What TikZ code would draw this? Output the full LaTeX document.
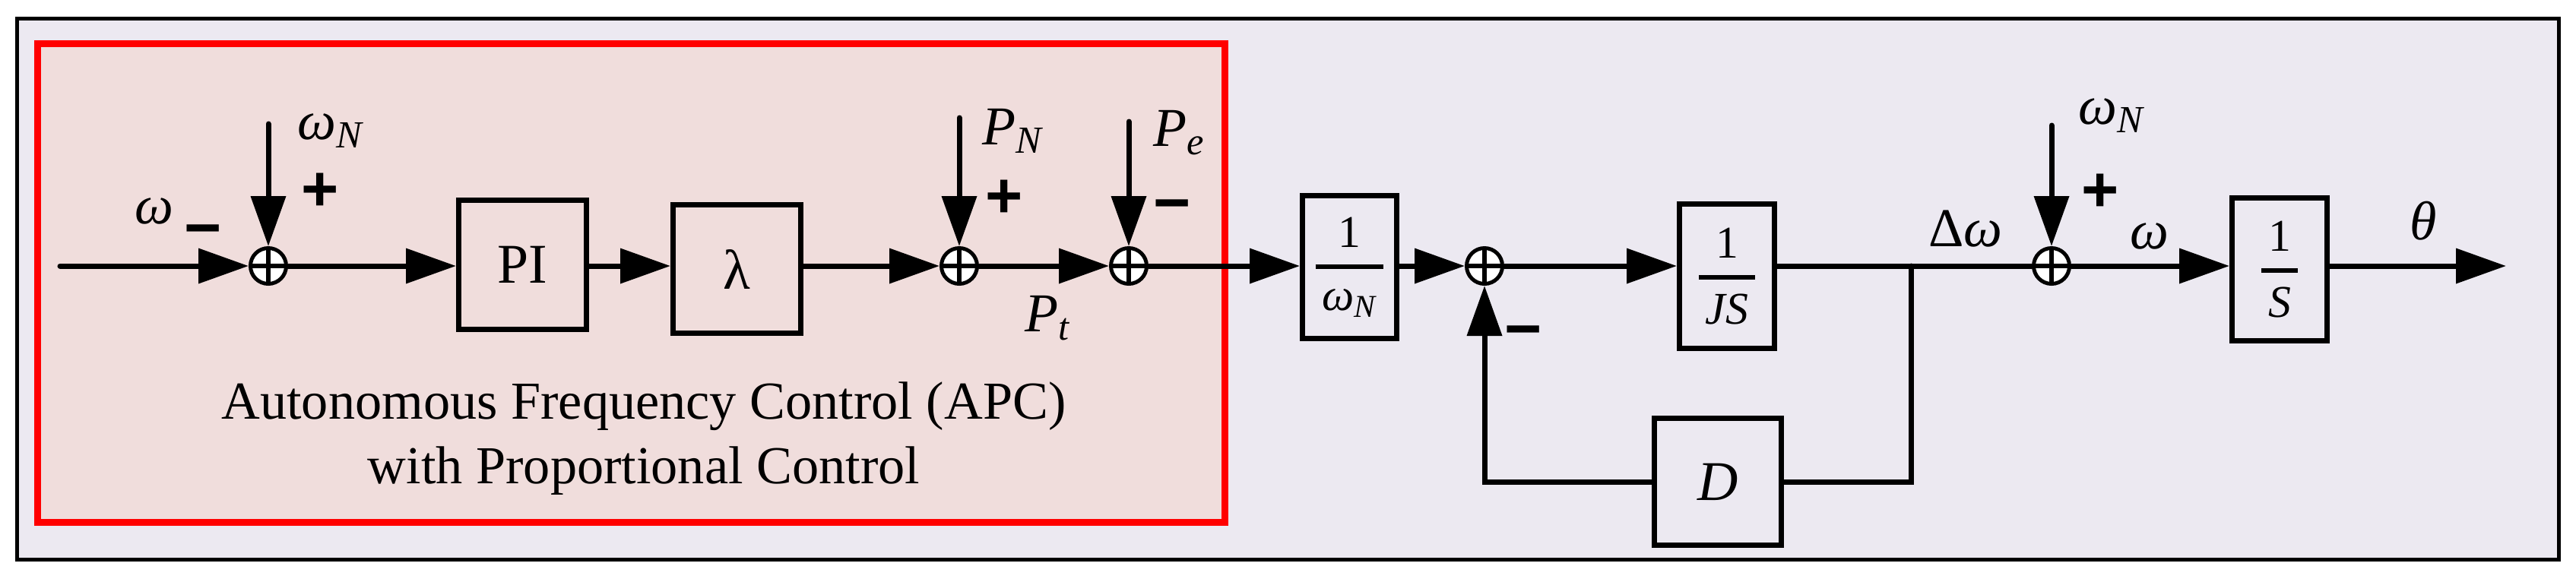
\documentclass[tikz,border=0pt]{standalone}
\usepackage{amsmath}
\usepackage{fontspec}
\setmainfont{Liberation Serif}
\newfontfamily\signfont{Liberation Sans}
\usetikzlibrary{arrows.meta}
\definecolor{panelgray}{RGB}{236,233,241}
\definecolor{apcpink}{RGB}{240,221,220}
\newcommand{\blockfrac}[2]{$\genfrac{}{}{1.8pt}{0}{\text{#1}}{\hspace{0.09cm}\text{#2}\hspace{0.09cm}}$}
\begin{document}
\begin{tikzpicture}[x=1cm,y=-1cm,
    lbl/.style={font=\fontsize{20.5}{24}\selectfont},
    sgn/.style={font=\signfont\bfseries\fontsize{24}{26}\selectfont,inner sep=0pt},
    block/.style={draw,line width=0.07cm,inner sep=0pt,font=\fontsize{21}{24}\selectfont},
    fracblock/.style={block,font=\fontsize{17}{20}\selectfont},
    sumpt/.style={circle,draw,fill=white,line width=0.05cm,minimum size=0.47cm,inner sep=0pt,
        path picture={\draw[line width=0.06cm] (path picture bounding box.north)--(path picture bounding box.south)
            (path picture bounding box.west)--(path picture bounding box.east);}},
    sig/.style={line width=0.07cm,line cap=round,-{Triangle[length=0.66cm,width=0.45cm]}},
    wire/.style={line width=0.07cm,line cap=round}]
    \useasboundingbox (0,0) rectangle (33.89,7.61);
    \draw[line width=0.05cm,fill=panelgray] (0.225,0.245) rectangle (33.665,7.365);
    \draw[line width=0.09cm,red,fill=apcpink] (0.49,0.575) rectangle (16.11,6.87);
    \node[font=\fontsize{20}{24.2}\selectfont,align=center] (apc) at (8.47,5.775) {Autonomous Frequency Control (APC)\\with Proportional Control};

    \node[sumpt] (s1) at (3.53,3.50) {};
    \node[sumpt] (s2) at (12.62,3.50) {};
    \node[sumpt] (s3) at (14.85,3.50) {};
    \node[sumpt] (s4) at (19.53,3.50) {};
    \node[sumpt] (s5) at (26.99,3.50) {};

    \node[block,minimum width=1.68cm,minimum height=1.70cm] (pi) at (6.875,3.485) {PI};
    \node[block,minimum width=1.68cm,minimum height=1.69cm] (lam) at (9.695,3.54) {λ};
    \node[fracblock,minimum width=1.24cm,minimum height=1.88cm] (wn) at (17.755,3.515) {\blockfrac{1}{\itshape ω\textsubscript{N}}};
    \node[fracblock,minimum width=1.25cm,minimum height=1.90cm] (js) at (22.72,3.635) {\blockfrac{1}{\itshape JS}};
    \node[fracblock,minimum width=1.25cm,minimum height=1.88cm] (ws) at (29.99,3.545) {\blockfrac{1}{\itshape S}};
    \node[block,minimum width=1.67cm,minimum height=1.67cm] (d) at (22.60,6.34) {\itshape D};

    \node[lbl] (lw) at (2.03,2.78) {\itshape ω};
    \node[lbl] (lwn) at (4.35,1.72) {\itshape ω\textsubscript{N}};
    \node[lbl] (lpn) at (13.32,1.72) {\itshape P\textsubscript{N}};
    \node[lbl] (lpe) at (15.52,1.75) {\itshape P\textsubscript{e}};
    \node[lbl] (lpt) at (13.78,4.19) {\itshape P\textsubscript{t}};
    \node[lbl] (ldw) at (25.86,3.01) {Δ\textit{ω}};
    \node[lbl] (lwn2) at (27.78,1.52) {\itshape ω\textsubscript{N}};
    \node[lbl] (lw2) at (28.28,3.11) {\itshape ω};
    \node[lbl] (lth) at (31.88,2.91) {\itshape θ};

    \node[sgn] (p1) at (4.21,2.53) {+};
    \node[sgn] (m1) at (2.67,3.12) {−};
    \node[sgn] (p2) at (13.21,2.62) {+};
    \node[sgn] (m3) at (15.42,2.79) {−};
    \node[sgn] (m4) at (20.04,4.45) {−};
    \node[sgn] (p5) at (27.63,2.54) {+};

    \coordinate (in) at (0.79,3.50);
    \coordinate (wnin) at (3.53,1.63);
    \coordinate (pnin) at (12.62,1.55);
    \coordinate (pein) at (14.85,1.60);
    \coordinate (wnin2) at (26.99,1.65);
    \coordinate (br) at (25.14,3.50);
    \coordinate (out) at (32.97,3.50);

    \draw[sig] (in) -- (s1);
    \draw[sig] (wnin) -- (s1);
    \draw[sig] (s1) -- (s1 -| pi.west);
    \draw[sig] (pi.east |- s1) -- (lam.west |- s1);
    \draw[sig] (lam.east |- s2) -- (s2);
    \draw[sig] (pnin) -- (s2);
    \draw[sig] (s2) -- (s3);
    \draw[sig] (pein) -- (s3);
    \draw[sig] (s3) -- (s3 -| wn.west);
    \draw[sig] (wn.east |- s4) -- (s4);
    \draw[sig] (s4) -- (s4 -| js.west);
    \draw[wire] (js.east |- s5) -- (s5);
    \draw[sig] (wnin2) -- (s5);
    \draw[sig] (s5) -- (s5 -| ws.west);
    \draw[sig] (ws.east |- out) -- (out);
    \draw[wire] (br) |- (d.east);
    \draw[sig] (d.west) -| (s4);
\end{tikzpicture}
\end{document}
